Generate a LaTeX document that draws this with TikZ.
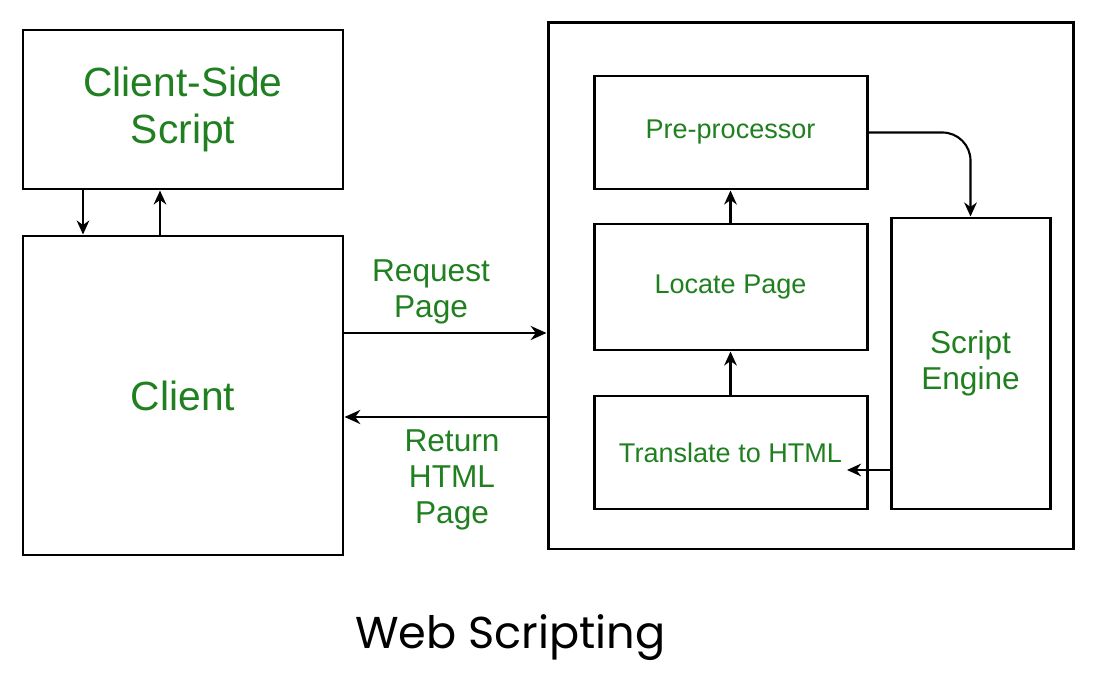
\documentclass[tikz,border=0pt]{standalone}
\usepackage{fontspec}
\setmainfont{Liberation Sans}
\newfontfamily\captionfont{Poppins}
\usepackage{tikz}
\usetikzlibrary{positioning, arrows.meta, calc}

\definecolor{labelgreen}{RGB}{32,128,32}

\begin{document}
\begin{tikzpicture}[
    box/.style={rectangle, draw=black, line width=0.85pt, align=center,
                text=labelgreen, inner sep=0pt},
    bigtext/.style={font=\fontsize{11.6}{13.2}\selectfont},
    midtext/.style={font=\fontsize{9}{10.3}\selectfont},
    smalltext/.style={font=\fontsize{7.7}{9}\selectfont},
    arrow/.style={-{Stealth[length=4.5pt, width=4pt]}, line width=0.7pt},
    minor/.style={-{Stealth[length=4pt, width=3.6pt]}, line width=0.6pt},
    label/.style={align=center, text=labelgreen}
]
    \useasboundingbox (0,0) rectangle (10.97,6.75);

    % === Client side ===
    \node[box, bigtext, minimum width=3.2cm, minimum height=1.59cm] (script) at (1.83, 5.655) {Client-Side\\Script};
    \node[box, bigtext, minimum width=3.2cm, minimum height=3.19cm] (client) at (1.83, 2.795) {Client};

    \draw[minor] (script.south -| 0.83,0) -- (client.north -| 0.83,0);
    \draw[minor] (client.north -| 1.60,0) -- (script.south -| 1.60,0);

    % === Server side ===
    \node[box, minimum width=5.25cm, minimum height=5.26cm] (server) at (8.105, 3.89) {};
    \node[box, smalltext, minimum width=2.73cm, minimum height=1.13cm] (pre) at (7.305, 5.425) {Pre-processor};
    \node[box, smalltext, minimum width=2.73cm, minimum height=1.26cm] (locate) at (7.305, 3.88) {Locate Page};
    \node[box, smalltext, minimum width=2.73cm, minimum height=1.13cm] (translate) at (7.305, 2.225) {Translate to HTML};
    \node[box, midtext, minimum width=1.59cm, minimum height=2.91cm] (engine) at (9.705, 3.115) {Script\\Engine};

    \draw[minor] (locate) -- (pre);
    \draw[minor] (translate) -- (locate);
    \draw[minor, rounded corners=8pt] (pre.east) -| (engine.north);
    \coordinate (enginetip) at (8.47, 2.05);
    \draw[minor] (engine.west |- enginetip) -- (enginetip);

    % === Request / response ===
    \draw[arrow] (client.east |- 0,3.42) -- (server.west |- 0,3.42);
    \draw[arrow] (server.west |- 0,2.58) -- (client.east |- 0,2.58);
    \node[label, midtext] (request) at (4.31, 3.83) {Request\\Page};
    \node[label, midtext] (return) at (4.52, 1.95) {Return\\HTML\\Page};

    \node[font=\captionfont\fontsize{12.7}{14}\selectfont] (title) at (5.105, 0.37) {Web Scripting};
\end{tikzpicture}
\end{document}
